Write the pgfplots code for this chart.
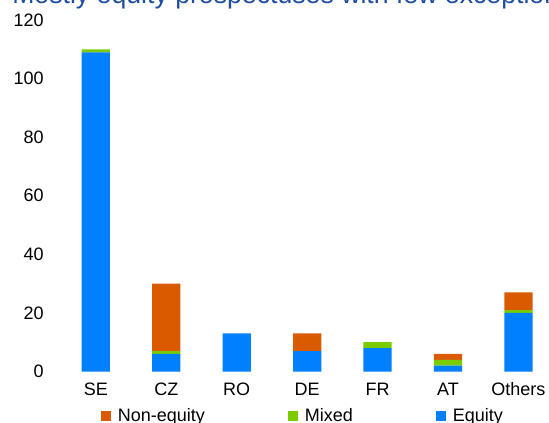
\documentclass[border=0pt]{standalone}
\usepackage{fontspec}
\setmainfont{Liberation Sans}
\usepackage{pgfplots}
\pgfplotsset{compat=1.18}
\definecolor{cNon}{RGB}{218,90,0}
\definecolor{cMix}{RGB}{122,204,0}
\definecolor{cEq}{RGB}{0,128,255}
\definecolor{cTitle}{RGB}{31,78,160}
\begin{document}
\begin{tikzpicture}
\useasboundingbox (0,0) rectangle (411.75pt,317.25pt);
\clip (0,0) rectangle (411.75pt,317.25pt);
\node[anchor=base west, inner sep=0pt, font=\fontsize{20}{24}\selectfont, text=cTitle] at (9pt,314.6pt) {Mostly equity prospectuses with few exceptions};
\begin{axis}[
  at={(45.45pt,38.6pt)}, anchor=south west,
  scale only axis, width=369.8pt, height=263.6pt,
  xmin=-0.5, xmax=6.5, ymin=0, ymax=120,
  ybar stacked, bar width=21.2pt,
  axis line style={draw=none}, tick style={draw=none}, major tick length=0pt,
  xtick={0,1,2,3,4,5,6},
  xticklabels={SE,CZ,RO,DE,FR,AT,Others},
  ytick={0,20,40,60,80,100,120},
  /pgf/number format/assume math mode=true,
  ticklabel style={font=\fontsize{13.5}{16}\selectfont},
  x tick label style={anchor=base, inner sep=0pt, yshift=-17.85pt},
  y tick label style={anchor=east, inner sep=0pt, xshift=-12.45pt},
  legend columns=3,
  reverse legend,
  legend style={at={(0.0819,-0.1275)}, anchor=west, draw=none, fill=none, inner sep=0pt,
    font=\fontsize{13.5}{16}\selectfont,
    /tikz/every even column/.append style={column sep=60.5pt},
    /tikz/every odd column/.append style={column sep=3.2pt}},
  legend image code/.code={\fill[#1,draw=none] (0pt,-3.65pt) rectangle (7.3pt,3.65pt);},
]
\addplot[fill=cEq, draw=none] coordinates {(0,109) (1,6) (2,13) (3,7) (4,8) (5,2) (6,20)};
\addplot[fill=cMix, draw=none] coordinates {(0,1) (1,1) (2,0) (3,0) (4,2) (5,2) (6,1)};
\addplot[fill=cNon, draw=none] coordinates {(0,0) (1,23) (2,0) (3,6) (4,0) (5,2) (6,6)};
\legend{Equity,Mixed,Non-equity}
\end{axis}
\end{tikzpicture}
\end{document}
